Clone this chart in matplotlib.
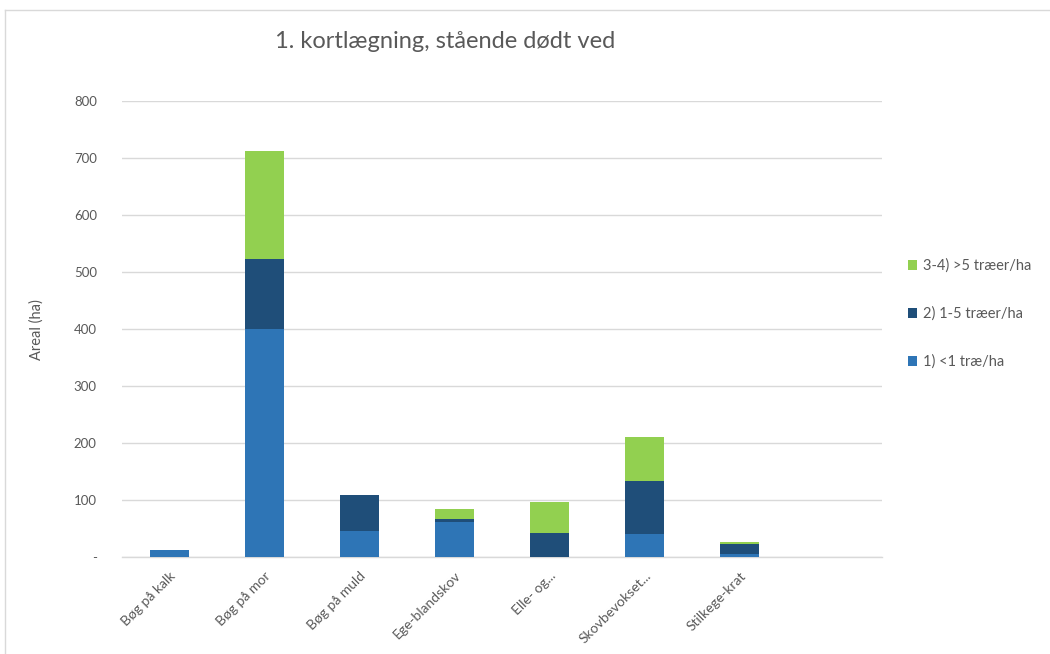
import matplotlib
matplotlib.use("Agg")
import matplotlib.pyplot as plt
import numpy as np

plt.rcParams['font.family'] = ['Lato', 'DejaVu Sans']

# areal (ha) per naturtype, opdelt efter antal stående døde træer
categories = ["Bøg på kalk", "Bøg på mor", "Bøg på muld", "Ege-blandskov",
              "Elle- og...", "Skovbevokset...", "Stilkege-krat", ""]
under_1 = [13, 400, 46, 62, 0, 40, 6, 0]
from_1_to_5 = [0, 123, 63, 5, 43, 93, 17, 0]
over_5 = [0, 190, 0, 17, 53, 77, 3, 0]
series_labels = ["1) <1 træ/ha", "2) 1-5 træer/ha", "3-4) >5 træer/ha"]
colors = ["#2E75B6", "#1F4E79", "#92D050"]
yticks = [0, 100, 200, 300, 400, 500, 600, 700, 800]
ytick_labels = ["-", "100", "200", "300", "400", "500", "600", "700", "800"]

text_color = "#595959"
grid_color = "#d9d9d9"

fig = plt.figure(figsize=(10.5, 6.54), dpi=100)
ax = fig.add_axes([0.116, 0.148, 0.724, 0.6975])

x = np.arange(len(categories))
bottom = np.zeros(len(categories))
for vals, lab, col in zip([under_1, from_1_to_5, over_5], series_labels, colors):
    ax.bar(x, vals, width=0.41, bottom=bottom, color=col, label=lab,
           linewidth=0, zorder=3)
    bottom += np.array(vals)

ax.set_xlim(-0.5, len(categories) - 0.5)
ax.set_ylim(0, 800)
ax.set_yticks(yticks)
ax.set_yticklabels(ytick_labels)
ax.yaxis.grid(True, color=grid_color, linewidth=1, zorder=0)
ax.tick_params(axis="y", length=0, pad=18, labelsize=9.5, labelcolor=text_color)
ax.tick_params(axis="x", length=0, pad=9, labelsize=10, labelcolor=text_color)
ax.set_xticks(x)
ax.set_xticklabels(categories, rotation=45, ha="right", rotation_mode="anchor")

for side in ["top", "right", "left"]:
    ax.spines[side].set_visible(False)
ax.spines["bottom"].set_color(grid_color)
ax.spines["bottom"].set_linewidth(1)

ax.set_ylabel("Areal (ha)", color=text_color, fontsize=10.5, labelpad=22)

fig.text(0.424, 0.936, "1. kortlægning, stående dødt ved", ha="center",
         va="center", fontsize=17, color=text_color)

handles, labels = ax.get_legend_handles_labels()
fig.legend(handles[::-1], labels[::-1], loc="center left",
           bbox_to_anchor=(0.852, 0.52), frameon=False, fontsize=10.5,
           labelcolor=text_color, handlelength=0.65, handleheight=0.65,
           handletextpad=0.4, labelspacing=2.3)

# tynd ramme omkring diagramområdet
fig.add_artist(plt.Line2D([5 / 1050, 5 / 1050], [0, 1 - 10 / 654],
                          transform=fig.transFigure, color=grid_color, lw=1))
fig.add_artist(plt.Line2D([5 / 1050, 1], [1 - 10 / 654, 1 - 10 / 654],
                          transform=fig.transFigure, color=grid_color, lw=1))

fig.savefig("out.png", dpi=100, facecolor="white")
